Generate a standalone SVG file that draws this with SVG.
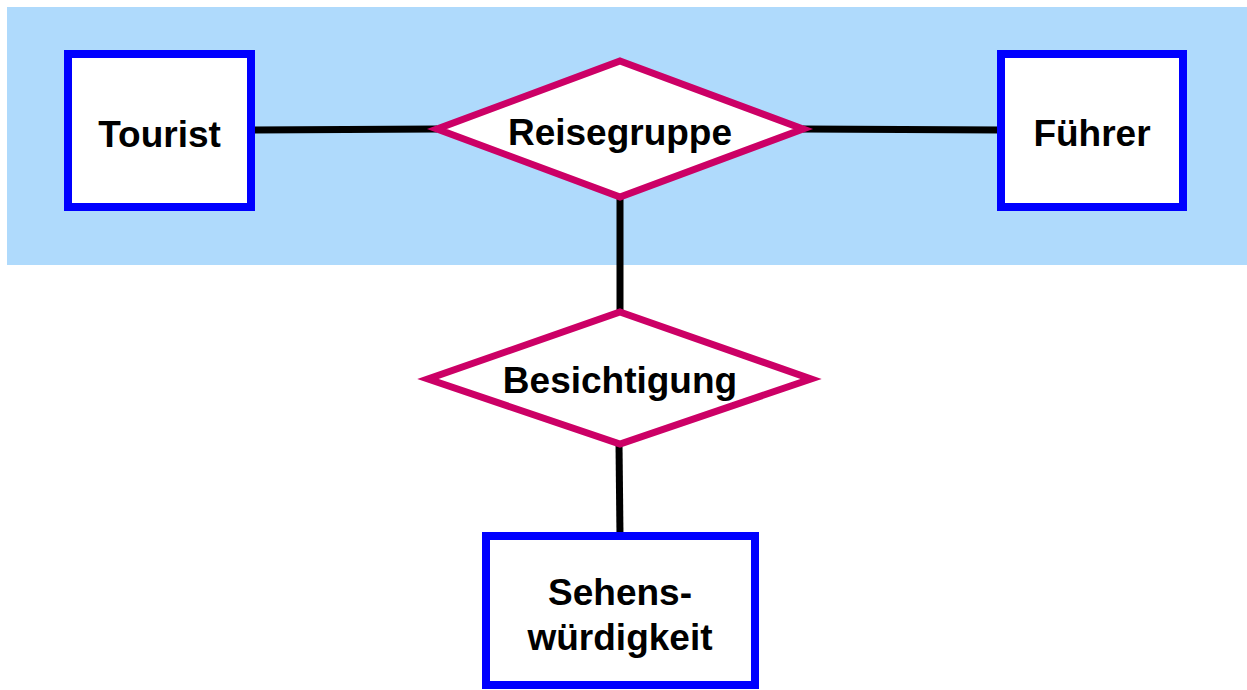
<svg xmlns="http://www.w3.org/2000/svg" width="1247" height="690" viewBox="0 0 1247 690">
<style>
.ent{fill:#ffffff;stroke:#0000ff;stroke-width:8}
.rel{fill:#ffffff;stroke:#cc0066;stroke-width:7;stroke-linejoin:miter}
.con{stroke:#000000;stroke-width:7;fill:none}
text{font-family:"Liberation Sans",Arial,sans-serif;font-weight:bold;font-size:37px;fill:#000000;text-anchor:middle}
</style>
<rect x="7" y="7" width="1240" height="258" fill="#afdafc"/>
<g id="connectors">
<line class="con" x1="251" y1="130" x2="437" y2="129"/>
<line class="con" x1="803" y1="129" x2="1001" y2="130"/>
<line class="con" x1="620" y1="197" x2="620" y2="312"/>
<line class="con" x1="619" y1="444" x2="620" y2="536"/>
</g>
<g id="tourist">
<rect class="ent" x="68" y="54" width="183" height="153"/>
<text x="159.5" y="147">Tourist</text>
</g>
<g id="fuehrer">
<rect class="ent" x="1001" y="54" width="182" height="153"/>
<text x="1092" y="146">Führer</text>
</g>
<g id="reisegruppe">
<polygon class="rel" points="620,61 803,129 620,197 437,129"/>
<text x="620" y="145">Reisegruppe</text>
</g>
<g id="besichtigung">
<polygon class="rel" points="620,312 811,379 620,444 428,379"/>
<text x="620" y="393">Besichtigung</text>
</g>
<g id="sehenswuerdigkeit">
<rect class="ent" x="486" y="536" width="269" height="149"/>
<text x="620" y="605">Sehens-</text>
<text x="620" y="650">würdigkeit</text>
</g>
</svg>
